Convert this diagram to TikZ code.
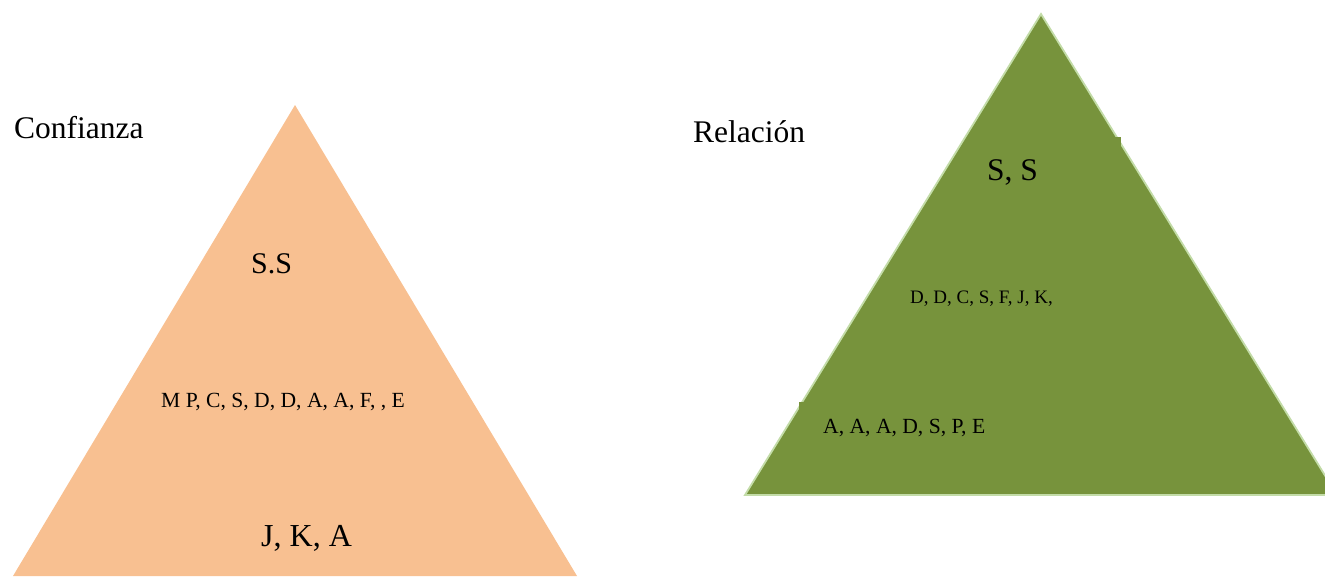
\documentclass[tikz,border=0pt]{standalone}
\usepackage{fontspec}
\setmainfont{Liberation Serif}
\definecolor{peach}{HTML}{F8C091}
\definecolor{olive}{HTML}{77933C}
\definecolor{oliveline}{HTML}{C3DCA8}
\begin{document}
\begin{tikzpicture}[x=1pt,y=-1pt,
  lbl/.style={inner sep=0pt,anchor=base west,text=black},
  big/.style={lbl,font=\fontsize{31.5}{36}\selectfont},
  mid/.style={lbl,font=\fontsize{21.6}{25}\selectfont},
  small/.style={lbl,font=\fontsize{19}{23}\selectfont}]
\useasboundingbox (0,0) rectangle (1325,576);
% left pyramid
\coordinate (la) at (295,105);
\coordinate (lb) at (13,576);
\coordinate (lc) at (577,576);
\fill[peach] (la) -- (lb) -- (lc) -- cycle;
% right pyramid
\coordinate (ra) at (1041,14);
\coordinate (rb) at (745,495);
\coordinate (rc) at (1337,495);
\fill[olive] (ra) -- (rb) -- (rc) -- cycle;
\draw[oliveline,line width=1.8pt,line join=miter] (ra) -- (rb) -- (rc) -- cycle;
% small text-box corners showing on the green pyramid
\fill[olive] (1115,137) rectangle (1121,150);
\fill[olive] (799,402) rectangle (804,412);
% captions
\node[big] (tconf) at (14,138) {Confianza};
\node[big] (trel) at (693,142) {Relación};
% left pyramid levels
\node[big,font=\fontsize{30}{36}\selectfont] (l1) at (251,273) {S.S};
\node[mid] (l2) at (161,407) {M P, C, S, D, D, A, A, F, , E};
\node[big,font=\fontsize{32}{36}\selectfont] (l3) at (261,546) {J, K, A};
% right pyramid levels
\node[big] (r1) at (987,180) {S, S};
\node[small] (r2) at (910,303) {D, D, C, S, F, J, K,};
\node[mid] (r3) at (823,433) {A, A, A, D, S, P, E};
\end{tikzpicture}
\end{document}
